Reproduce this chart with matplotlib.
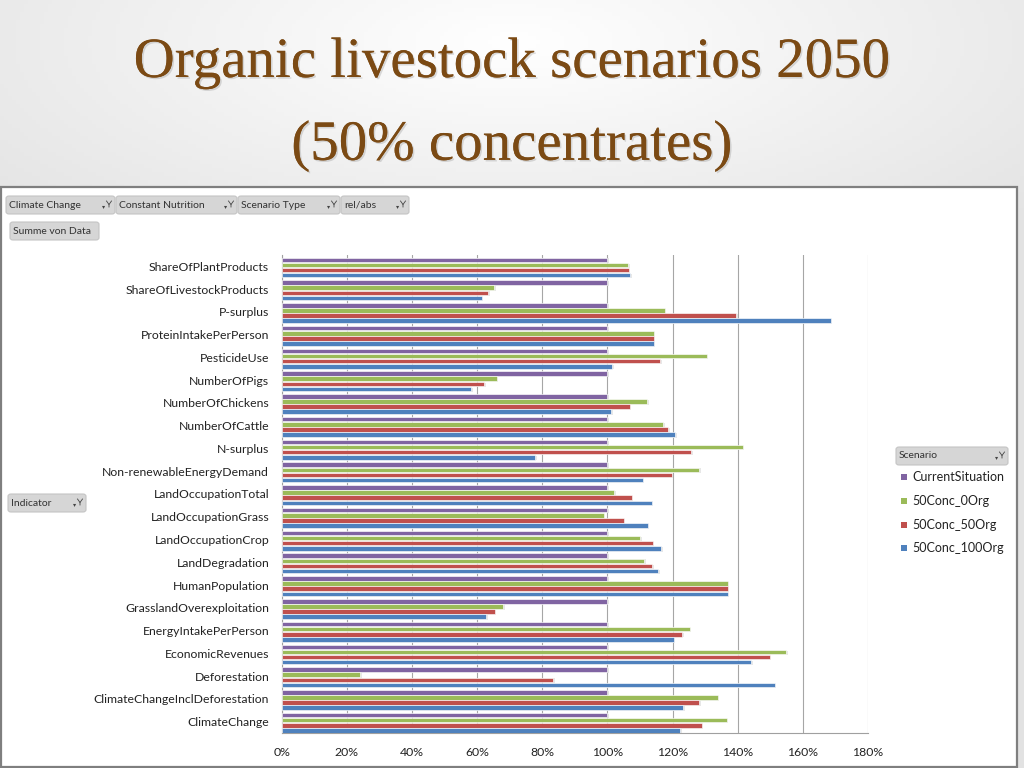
import numpy as np
import matplotlib
matplotlib.use("Agg")
import matplotlib.pyplot as plt
from matplotlib.patches import Rectangle, FancyBboxPatch
from matplotlib.lines import Line2D
import matplotlib.patheffects as pe

# ---------------- data ----------------
categories = [
    "ShareOfPlantProducts", "ShareOfLivestockProducts", "P-surplus",
    "ProteinIntakePerPerson", "PesticideUse", "NumberOfPigs",
    "NumberOfChickens", "NumberOfCattle", "N-surplus",
    "Non-renewableEnergyDemand", "LandOccupationTotal", "LandOccupationGrass",
    "LandOccupationCrop", "LandDegradation", "HumanPopulation",
    "GrasslandOverexploitation", "EnergyIntakePerPerson", "EconomicRevenues",
    "Deforestation", "ClimateChangeInclDeforestation", "ClimateChange",
]
series_names = ["CurrentSituation", "50Conc_0Org", "50Conc_50Org", "50Conc_100Org"]
current_situation = [100] * 21
conc50_0org = [106.4, 65.2, 117.6, 114.2, 130.5, 66.0, 112.3, 117.2, 141.5,
               128.2, 102.0, 98.8, 110.1, 111.3, 136.9, 68.0, 125.2, 154.8,
               24.1, 133.8, 136.6]
conc50_50org = [106.5, 63.3, 139.5, 114.2, 116.2, 62.1, 106.8, 118.6, 125.8,
                119.7, 107.4, 105.0, 113.9, 113.8, 136.9, 65.4, 122.9, 149.8,
                83.4, 128.1, 128.9]
conc50_100org = [107.0, 61.4, 168.5, 114.2, 101.5, 58.1, 101.2, 120.9, 77.9,
                 110.8, 113.6, 112.4, 116.6, 115.5, 136.9, 62.7, 120.3, 144.2,
                 151.4, 123.2, 122.4]
series_values = [current_situation, conc50_0org, conc50_50org, conc50_100org]
series_colors = ["#8064A2", "#9BBB59", "#C0504D", "#4F81BD"]
xticks = [0, 20, 40, 60, 80, 100, 120, 140, 160, 180]
xtick_labels = ["0%", "20%", "40%", "60%", "80%", "100%", "120%", "140%", "160%", "180%"]
filter_buttons = ["Climate Change", "Constant Nutrition", "Scenario Type", "rel/abs"]

# ---------------- figure ----------------
W, H = 1024, 768
fig = plt.figure(figsize=(W / 100, H / 100), dpi=100)
LABEL_FONT = ["Lato", "DejaVu Sans"]


def fx(px):
    return px / W


def fy(py):
    return 1 - py / H


# background gradient
bg = fig.add_axes([0, 0, 1, 1], zorder=-10)
yy, xx = np.mgrid[0:H:4, 0:W:4]
r = np.sqrt(((xx - 512) / 700.0) ** 2 + ((yy - 40) / 260.0) ** 2)
g = 1.0 - 0.11 * np.clip(r, 0, 1)
bg.imshow(np.dstack([g, g, g]), extent=[0, 1, 0, 1], aspect="auto", origin="upper")
bg.set_axis_off()

# white panel
fig.patches.append(Rectangle((fx(1), fy(767)), fx(1016), 580 / H, transform=fig.transFigure,
                             facecolor="white", edgecolor="#7f7f7f", linewidth=1.6, zorder=-5))

# title
title_fx = [pe.withSimplePatchShadow(offset=(1.2, -1.2), shadow_rgbFace="#666666", alpha=0.22),
            pe.Normal()]
fig.text(0.5, fy(63), "Organic livestock scenarios 2050", ha="center", va="center",
         fontsize=41, family="Liberation Serif", color="#7B4A14", path_effects=title_fx)
fig.text(0.5, fy(146), "(50% concentrates)", ha="center", va="center",
         fontsize=41, family="Liberation Serif", color="#7B4A14", path_effects=title_fx)


def funnel(xc, yc):
    # small dropdown triangle + funnel icon (pixel coords)
    fig.text(fx(xc - 5.5), fy(yc + 2), "\u25BE", fontsize=4.5, color="#444444",
             ha="center", va="center", family="DejaVu Sans")
    for pts in ([(xc - 2.5, yc - 4), (xc, yc - 0.5), (xc, yc + 2)],
                [(xc + 2.5, yc - 4), (xc, yc - 0.5)]):
        fig.lines.append(Line2D([fx(p[0]) for p in pts], [fy(p[1]) for p in pts],
                                transform=fig.transFigure, color="#444444", lw=0.6))


def button(x0, y0, x1, y1, label, icon=True):
    fig.patches.append(FancyBboxPatch((fx(x0), fy(y1)), fx(x1 - x0), (y1 - y0) / H,
                                      boxstyle="round,pad=0,rounding_size=0.003",
                                      transform=fig.transFigure, facecolor="#d6d6d6",
                                      edgecolor="#c4c4c4", linewidth=0.8))
    fig.text(fx(x0 + 3), fy((y0 + y1) / 2), label, fontsize=7.5, color="#333333",
             ha="left", va="center", family=LABEL_FONT)
    if icon:
        funnel(x1 - 6, (y0 + y1) / 2)


btn_x = [(6, 115), (116, 237), (238, 340), (341, 409)]
for (x0, x1), lab in zip(btn_x, filter_buttons):
    button(x0, 196, x1, 214, lab)
button(10, 222, 99, 240, "Summe von Data", icon=False)
button(8, 494, 86, 512, "Indicator")
button(896, 447, 1008, 465, "Scenario")

# legend entries
leg_y = [477, 501, 525, 548]
for name, col, ly in zip(series_names, series_colors, leg_y):
    fig.patches.append(Rectangle((fx(901), fy(ly + 3)), fx(6), 6 / H,
                                 transform=fig.transFigure, facecolor=col, edgecolor="none"))
    fig.text(fx(912), fy(ly), name, fontsize=9, color="#222222", ha="left",
             va="center", family=LABEL_FONT)

# ---------------- chart ----------------
ax = fig.add_axes([fx(281.7), fy(733), fx(868 - 281.7), (733 - 255) / H])
n = len(categories)
ypos = np.arange(n)
step = 0.225
bh = 0.2
offsets = (np.arange(4) - 1.5) * step + 0.05
for vals, col, off in zip(series_values, series_colors, offsets):
    # soft shadow
    ax.barh(ypos + off + 0.04, vals, height=bh, left=0.5, color="#d0d0d0",
            edgecolor="none", alpha=0.5, zorder=2)
    ax.barh(ypos + off, vals, height=bh, color=col, edgecolor="white",
            linewidth=0.45, zorder=3)

ax.set_xlim(0, 180)
ax.set_ylim(n - 0.5, -0.5)
ax.set_yticks(ypos)
ax.set_yticklabels(categories, fontsize=8.8, family=LABEL_FONT, color="#222222")
ax.set_xticks(xticks)
ax.set_xticklabels(xtick_labels, fontsize=8.8, family=LABEL_FONT, color="#222222")
ax.tick_params(axis="y", length=0, pad=9)
ax.tick_params(axis="x", length=0, pad=10)
ax.grid(axis="x", color="#a6a6a6", linewidth=0.8, zorder=1)
ax.set_axisbelow(True)
for s in ["top", "right"]:
    ax.spines[s].set_visible(False)
for s in ["left", "bottom"]:
    ax.spines[s].set_color("#a0a0a0")
    ax.spines[s].set_linewidth(0.8)
ax.set_facecolor("none")

fig.savefig("out.png", dpi=100)
